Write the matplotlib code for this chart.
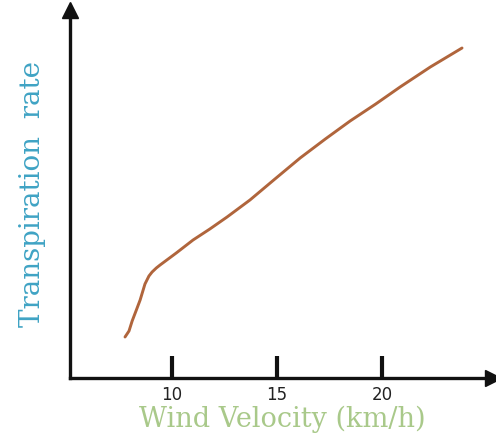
import numpy as np
import matplotlib.pyplot as plt

# -----------------------------
# DATA (arbitrary y units)
# -----------------------------
wind_velocity = [7.76, 7.95, 8.10, 8.30, 8.48, 8.71, 8.90, 9.05, 9.25, 9.43, 10.2, 11.0, 11.8,
                 12.62, 13.71, 14.9, 16.10, 17.3, 18.48, 19.7, 20.86, 22.3, 23.81]
transpiration = [4.1, 4.7, 5.7, 6.8, 7.8, 9.4, 10.2, 10.6, 11.0, 11.3, 12.5, 13.8, 14.9,
                 16.1, 17.8, 19.9, 22.0, 23.9, 25.7, 27.4, 29.1, 31.1, 33.0]
tick_values = [10, 15, 20]
tick_labels = ["10", "15", "20"]

# -----------------------------
# PLOT
# -----------------------------
fig = plt.figure(figsize=(4.96, 4.42), dpi=100)
ax = fig.add_axes([70 / 496, 64 / 442, 425 / 496, 368 / 442])

ax.plot(wind_velocity, transpiration, color="#b0653c", linewidth=2.1,
        solid_capstyle="round", solid_joinstyle="round")

ax.set_xlim(5.14, 25.38)
ax.set_ylim(0, 36.8)

for s in ["top", "right"]:
    ax.spines[s].set_visible(False)
for s in ["left", "bottom"]:
    ax.spines[s].set_linewidth(2.4)
    ax.spines[s].set_color("#111111")

# arrow heads
ax.plot(0.995, 0, marker=">", markersize=11, color="#111111", transform=ax.transAxes, clip_on=False)
ax.plot(0, 1, marker="^", markersize=12, color="#111111", transform=ax.transAxes, clip_on=False)

ax.set_xticks(tick_values)
ax.set_xticklabels(tick_labels, fontsize=12, family="DejaVu Sans", color="#222222")
ax.tick_params(axis="x", direction="in", length=16, width=3, pad=6, color="#111111")
ax.set_yticks([])

ax.set_xlabel("Wind Velocity (km/h)", fontsize=19.5, family="DejaVu Serif",
              color="#a9c98a", labelpad=1)
ax.set_ylabel("Transpiration  rate", fontsize=20, family="DejaVu Serif",
              color="#3fa3c4", labelpad=17)

fig.savefig("out.png", dpi=100)
